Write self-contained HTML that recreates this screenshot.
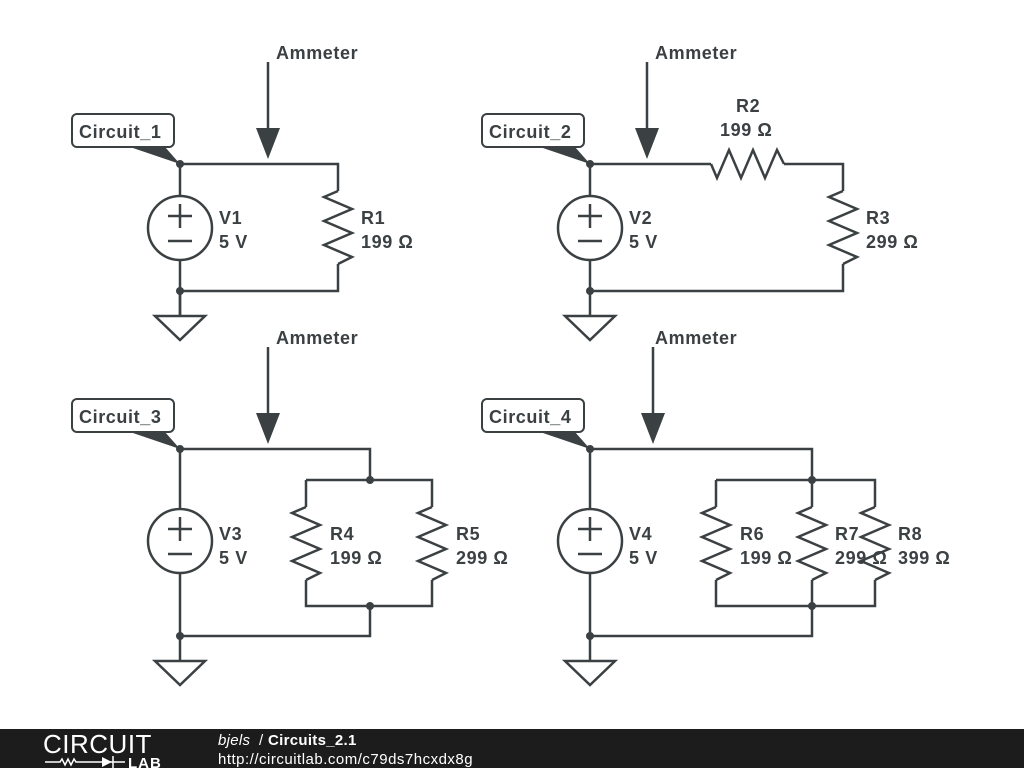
<!DOCTYPE html>
<html><head><meta charset="utf-8"><style>
html,body{margin:0;padding:0;background:#fff;width:1024px;height:768px;overflow:hidden}
svg{display:block}
text{font-family:"Liberation Sans",sans-serif;font-weight:bold;fill:#3b4043;font-size:18px;letter-spacing:0.6px}
</style></head><body>
<svg width="1024" height="768" viewBox="0 0 1024 768">
<defs>
<path id="res" d="M0,0 L-14,6 L14,18 L-14,30 L14,42 L-14,54 L14,66 L0,73" fill="none"/>
<g id="src"><circle cx="0" cy="0" r="32" fill="none"/><path d="M-12,-12 H12 M0,-24 V0 M-12,13 H12" fill="none"/></g>
<path id="gnd" d="M0,0 V25 M-25,25 H25 L0,49 Z" fill="none"/>
<g id="arr"><path d="M0,0 V66"/><path d="M-12,66 H12 L0,97 Z" fill="#3b4043" stroke="none"/></g>
</defs>
<g stroke="#3b4043" stroke-width="2.5" fill="none" stroke-linejoin="miter">
<path d="M180,164 H338 V191 M338,264 V291 H180 V260 M180,196 V164 M180,291 V316"/>
<use href="#res" x="338" y="191"/>
<use href="#src" x="180" y="228"/>
<use href="#gnd" x="180" y="291"/>
<use href="#arr" x="268" y="62"/>
<path d="M590,164 H711 M784,164 H843 V191 M843,264 V291 H590 V260 M590,196 V164"/>
<use href="#res" transform="translate(711,164) rotate(-90)"/>
<use href="#res" x="843" y="191"/>
<use href="#src" x="590" y="228"/>
<use href="#gnd" x="590" y="291"/>
<use href="#arr" x="647" y="62"/>
<path d="M180,449 H370 V480 M306,480 H432 V507 M306,480 V507 M306,580 V606 H432 V580 M370,606 V636 H180 V573 M180,509 V449"/>
<use href="#res" x="306" y="507"/>
<use href="#res" x="432" y="507"/>
<use href="#src" x="180" y="541"/>
<use href="#gnd" x="180" y="636"/>
<use href="#arr" x="268" y="347"/>
<path d="M590,449 H812 V480 M716,480 H875 V507 M716,480 V507 M812,480 V507 M716,580 V606 H875 V580 M812,580 V606 M812,606 V636 H590 V573 M590,509 V449"/>
<use href="#res" x="716" y="507"/>
<use href="#res" x="812" y="507"/>
<use href="#res" x="875" y="507"/>
<use href="#src" x="590" y="541"/>
<use href="#gnd" x="590" y="636"/>
<use href="#arr" x="653" y="347"/>
</g>
<g fill="#3b4043">
<circle cx="180" cy="164" r="4"/><circle cx="180" cy="291" r="4"/>
<circle cx="590" cy="164" r="4"/><circle cx="590" cy="291" r="4"/>
<circle cx="180" cy="449" r="4"/><circle cx="180" cy="636" r="4"/><circle cx="370" cy="480" r="4"/><circle cx="370" cy="606" r="4"/>
<circle cx="590" cy="449" r="4"/><circle cx="590" cy="636" r="4"/><circle cx="812" cy="480" r="4"/><circle cx="812" cy="606" r="4"/>
<path d="M130,147 L165,147 L180,164 Z"/>
<path d="M540,147 L575,147 L590,164 Z"/>
<path d="M130,432 L165,432 L180,449 Z"/>
<path d="M540,432 L575,432 L590,449 Z"/>
</g>
<g fill="#fff" stroke="#3b4043" stroke-width="2">
<rect x="72" y="114" width="102" height="33" rx="5"/>
<rect x="482" y="114" width="102" height="33" rx="5"/>
<rect x="72" y="399" width="102" height="33" rx="5"/>
<rect x="482" y="399" width="102" height="33" rx="5"/>
</g>
<text x="79" y="138">Circuit_1</text>
<text x="489" y="138">Circuit_2</text>
<text x="79" y="423">Circuit_3</text>
<text x="489" y="423">Circuit_4</text>
<text x="276" y="59">Ammeter</text>
<text x="655" y="59">Ammeter</text>
<text x="276" y="344">Ammeter</text>
<text x="655" y="344">Ammeter</text>
<text x="219" y="224">V1</text><text x="219" y="248">5 V</text>
<text x="361" y="224">R1</text><text x="361" y="248">199 Ω</text>
<text x="629" y="224">V2</text><text x="629" y="248">5 V</text>
<text x="736" y="112">R2</text><text x="720" y="136">199 Ω</text>
<text x="866" y="224">R3</text><text x="866" y="248">299 Ω</text>
<text x="219" y="540">V3</text><text x="219" y="564">5 V</text>
<text x="330" y="540">R4</text><text x="330" y="564">199 Ω</text>
<text x="456" y="540">R5</text><text x="456" y="564">299 Ω</text>
<text x="629" y="540">V4</text><text x="629" y="564">5 V</text>
<text x="740" y="540">R6</text><text x="740" y="564">199 Ω</text>
<text x="835" y="540">R7</text><text x="835" y="564">299 Ω</text>
<text x="898" y="540">R8</text><text x="898" y="564">399 Ω</text>
<rect x="0" y="729" width="1024" height="39" fill="#1c1c1c"/>
<text x="43" y="753" style="font-weight:normal;font-size:26px;fill:#fff;letter-spacing:0.5px">CIRCUIT</text>
<g stroke="#fff" stroke-width="1.5" fill="none"><path d="M45,762 H60 l2,-3 l3,6 l3,-6 l3,6 l3,-6 l2,3 H100 M113,756 V768 M100,762 H125"/></g>
<path d="M102,757 L112,762 L102,767 Z" fill="#fff"/>
<text x="128" y="768" style="font-size:15px;fill:#fff;letter-spacing:1px">LAB</text>
<text x="218" y="745" style="font-size:15px;fill:#fff;font-weight:normal;font-style:italic;letter-spacing:0.3px">bjels</text>
<text x="259" y="745" style="font-size:15px;fill:#fff;font-weight:normal">/</text>
<text x="268" y="745" style="font-size:15px;fill:#fff;letter-spacing:0.3px">Circuits_2.1</text>
<text x="218" y="764" style="font-size:15px;fill:#fff;font-weight:normal;letter-spacing:0.5px">http://circuitlab.com/c79ds7hcxdx8g</text>
</svg>
</body></html>
